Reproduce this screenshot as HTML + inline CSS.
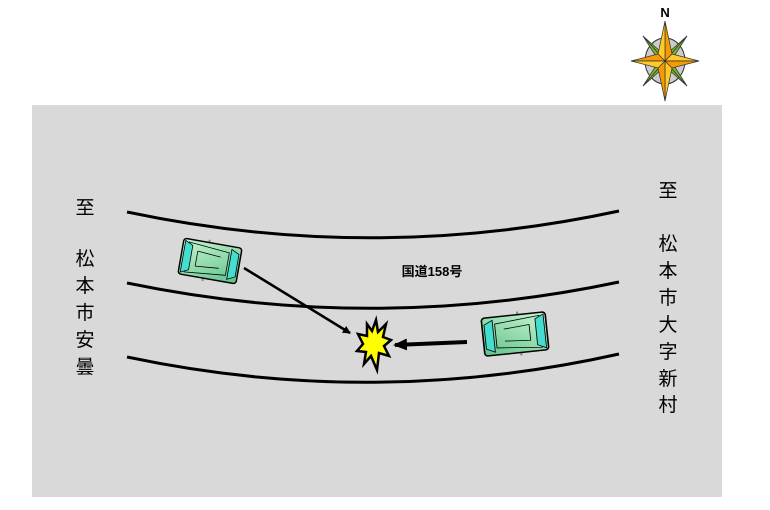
<!DOCTYPE html>
<html><head><meta charset="utf-8"><style>
body{margin:0;background:#fff;}
svg{display:block;}
text{font-family:"Liberation Sans","Noto Sans CJK JP",sans-serif;}
</style></head><body>
<svg width="770" height="510" viewBox="0 0 770 510" xmlns="http://www.w3.org/2000/svg">
<defs>
<linearGradient id="cg" x1="0" y1="0" x2="1" y2="1">
<stop offset="0" stop-color="#c9f5d3"/><stop offset="1" stop-color="#5fc28a"/>
</linearGradient>
<marker id="ah" markerWidth="8" markerHeight="8" refX="7" refY="4" orient="auto" markerUnits="userSpaceOnUse">
<path d="M0,0 L8,4 L0,8 Z" fill="#000"/></marker>
<marker id="ah2" markerWidth="14" markerHeight="12" refX="12" refY="6" orient="auto" markerUnits="userSpaceOnUse">
<path d="M0,0 L14,6 L0,12 Z" fill="#000"/></marker>
<g id="car">
<line x1="-4" y1="-22" x2="-4" y2="22" stroke="#888" stroke-width="2"/>
<rect x="-30" y="-19" width="60" height="38" rx="3" fill="url(#cg)" stroke="#000" stroke-width="1.5"/>
<path d="M-24,-16 L18,-12 L18,12 L-24,16 Z" fill="none" stroke="#000" stroke-width="0.8"/>
<path d="M-28,-17 L-20,-13 L-20,13 L-28,17 Z" fill="#44ddd0" stroke="#000" stroke-width="0.8"/>
<path d="M20,-16 L28,-12 L28,12 L20,16 Z" fill="#44ddd0" stroke="#000" stroke-width="0.8"/>
<path d="M-14,-8 L10,-6 M-14,8 L10,6 M-14,-8 L-14,8" stroke="#000" stroke-width="0.8" fill="none"/>
</g>
</defs>
<rect x="32" y="105" width="690" height="392" fill="#d9d9d9"/>
<path d="M127,212 Q373,264 619,211" fill="none" stroke="#000" stroke-width="3"/>
<path d="M127,283 Q373,334 619,282" fill="none" stroke="#000" stroke-width="3"/>
<path d="M127,357 Q373,409 619,354" fill="none" stroke="#000" stroke-width="3"/>
<g font-size="19" text-anchor="middle" fill="#000">
<text x="85" y="214">至</text>
<text x="85" y="265">松</text><text x="85" y="292">本</text><text x="85" y="319">市</text><text x="85" y="346">安</text><text x="85" y="373">曇</text>
<text x="668" y="197">至</text>
<text x="668" y="250">松</text><text x="668" y="277">本</text><text x="668" y="304">市</text><text x="668" y="331">大</text><text x="668" y="358">字</text><text x="668" y="385">新</text><text x="668" y="411">村</text>
</g>
<text x="432" y="276" font-size="13" font-weight="bold" text-anchor="middle">国道158号</text>
<g transform="translate(210,261) rotate(10) scale(0.98,0.95)"><use href="#car"/></g>
<g transform="translate(515,334) rotate(-6) scale(-1.07,1)"><use href="#car"/></g>
<line x1="244" y1="268" x2="350" y2="333" stroke="#000" stroke-width="2.5" marker-end="url(#ah)"/>
<line x1="467" y1="342" x2="395" y2="345" stroke="#000" stroke-width="4" marker-end="url(#ah2)"/>
<polygon points="376,320 378,332 386,324 383,337 391,340 384,346 389,356 379,353 377,370 371,356 364,364 366,352 357,351 363,344 358,334 367,336 367,324 372,331" fill="#ffff00" stroke="#000" stroke-width="2.5"/>
<g transform="translate(665,61)">
<ellipse rx="20" ry="23" fill="#ccc" stroke="#333" stroke-width="1"/>
<g fill="#7bb32e" stroke="#333" stroke-width="0.7">
<polygon points="0,0 22,-25 3,-8 "/><polygon points="0,0 22,-25 8,-3"/>
<polygon points="0,0 22,25 3,8"/><polygon points="0,0 22,25 8,3"/>
<polygon points="0,0 -22,25 -3,8"/><polygon points="0,0 -22,25 -8,3"/>
<polygon points="0,0 -22,-25 -3,-8"/><polygon points="0,0 -22,-25 -8,-3"/>
</g>
<g fill="#f59a00" stroke="#333" stroke-width="0.7">
<polygon points="0,-40 7,-7 0,0"/><polygon points="0,-40 -7,-7 0,0" fill="#ffc928"/>
<polygon points="0,40 7,7 0,0" fill="#ffc928"/><polygon points="0,40 -7,7 0,0"/>
<polygon points="34,0 7,-7 0,0" fill="#ffc928"/><polygon points="34,0 7,7 0,0"/>
<polygon points="-34,0 -7,-7 0,0"/><polygon points="-34,0 -7,7 0,0" fill="#ffc928"/>
</g>
<text x="0" y="-44" font-size="13" font-weight="bold" text-anchor="middle" font-family="Liberation Serif,serif">N</text>
</g>
</svg>
</body></html>
